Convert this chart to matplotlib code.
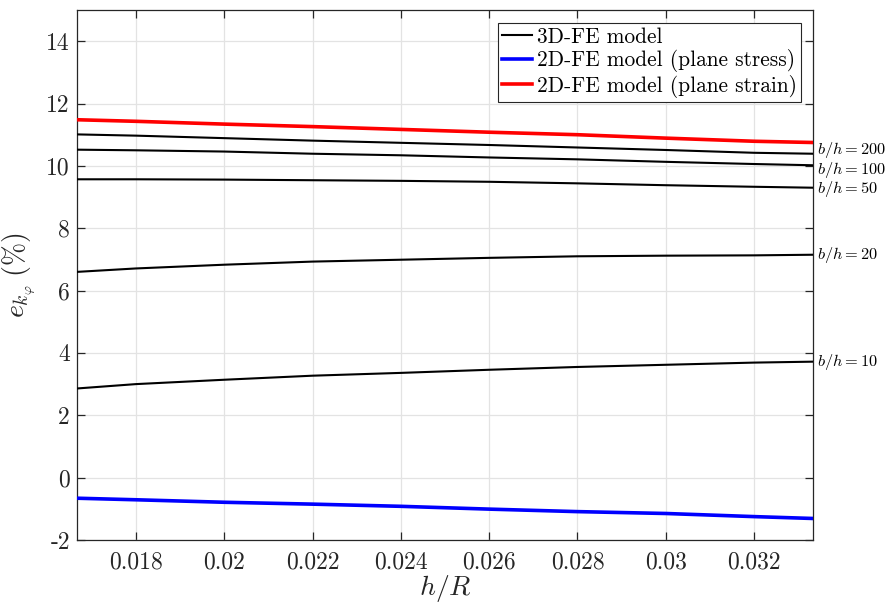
import matplotlib
matplotlib.use("Agg")
import matplotlib.pyplot as plt
import numpy as np

plt.rcParams.update({
    "font.family": "serif",
    "font.serif": ["cmr10", "DejaVu Serif"],
    "mathtext.fontset": "cm",
    "axes.formatter.use_mathtext": True,
    "axes.unicode_minus": False,
})

# thickness-to-radius ratio
h_over_R = [1 / 60, 0.018, 0.020, 0.022, 0.024, 0.026, 0.028, 0.030, 0.032, 1 / 30]

# 3D-FE results for several width-to-thickness ratios
b_over_h = [200, 100, 50, 20, 10]
fe3d = {
    200: [11.01, 10.97, 10.89, 10.81, 10.74, 10.67, 10.59, 10.51, 10.42, 10.39],
    100: [10.52, 10.50, 10.46, 10.39, 10.34, 10.27, 10.21, 10.13, 10.06, 10.02],
    50: [9.57, 9.57, 9.56, 9.54, 9.52, 9.49, 9.44, 9.38, 9.33, 9.30],
    20: [6.60, 6.71, 6.83, 6.93, 6.99, 7.05, 7.10, 7.12, 7.13, 7.15],
    10: [2.86, 3.00, 3.14, 3.27, 3.36, 3.46, 3.55, 3.62, 3.69, 3.72],
}
plane_stress = [-0.66, -0.71, -0.79, -0.85, -0.92, -1.01, -1.09, -1.15, -1.25, -1.31]
plane_strain = [11.48, 11.43, 11.34, 11.26, 11.17, 11.08, 11.00, 10.89, 10.79, 10.75]

xticks = [0.018, 0.020, 0.022, 0.024, 0.026, 0.028, 0.030, 0.032]
xtick_labels = ["0.018", "0.02", "0.022", "0.024", "0.026", "0.028", "0.03", "0.032"]
yticks = [-2, 0, 2, 4, 6, 8, 10, 12, 14]
ytick_labels = ["-2", "0", "2", "4", "6", "8", "10", "12", "14"]

# small vertical nudges (points) so the end labels do not collide
label_nudge = {200: 2.8, 100: -3.2, 50: -0.8, 20: 0, 10: 0}

fig = plt.figure(figsize=(8.88, 6.03), dpi=100)
ax = fig.add_axes([0.0867, 0.1045, 0.8288, 0.8789])

axis_color = "#262626"

first = True
for bh in b_over_h:
    ax.plot(h_over_R, fe3d[bh], color="black", lw=1.5,
            label="3D-FE model" if first else None, zorder=3)
    first = False
ax.plot(h_over_R, plane_stress, color="#0000ff", lw=2.6,
        label="2D-FE model (plane stress)", zorder=3)
ax.plot(h_over_R, plane_strain, color="#ff0000", lw=2.6,
        label="2D-FE model (plane strain)", zorder=3)

for bh in b_over_h:
    ax.annotate(r"$b/h = %d$" % bh, xy=(h_over_R[-1], fe3d[bh][-1]),
                xytext=(3, label_nudge[bh]), textcoords="offset points",
                ha="left", va="center", fontsize=11.8, color="black",
                annotation_clip=False)

ax.set_xlim(1 / 60, 1 / 30)
ax.set_ylim(-2, 15)
ax.set_xticks(xticks)
ax.set_xticklabels(xtick_labels)
ax.set_yticks(yticks)
ax.set_yticklabels(ytick_labels)

ax.grid(True, color="#e3e3e3", lw=0.9)
ax.set_axisbelow(True)
for s in ax.spines.values():
    s.set_color(axis_color)
    s.set_linewidth(0.9)
ax.tick_params(direction="in", length=6, width=0.9, colors=axis_color,
               labelsize=17, top=True, right=True, pad=5)
ax.tick_params(axis="x", pad=8)

ax.set_xlabel(r"$h/R$", fontsize=20, color=axis_color, labelpad=0)
ax.set_ylabel(r"$e_{k_\varphi}\;(\%)$", fontsize=20, color=axis_color, labelpad=6)

leg = ax.legend(loc="upper right", bbox_to_anchor=(0.9837, 0.9755),
                borderaxespad=0, fancybox=False, fontsize=15.4,
                handlelength=1.4, handletextpad=0.22, labelspacing=0.12,
                borderpad=0.2, framealpha=1)
leg.get_frame().set_edgecolor(axis_color)
leg.get_frame().set_linewidth(0.8)
for t in leg.get_texts():
    t.set_color("black")

fig.savefig("out.png", dpi=100)
